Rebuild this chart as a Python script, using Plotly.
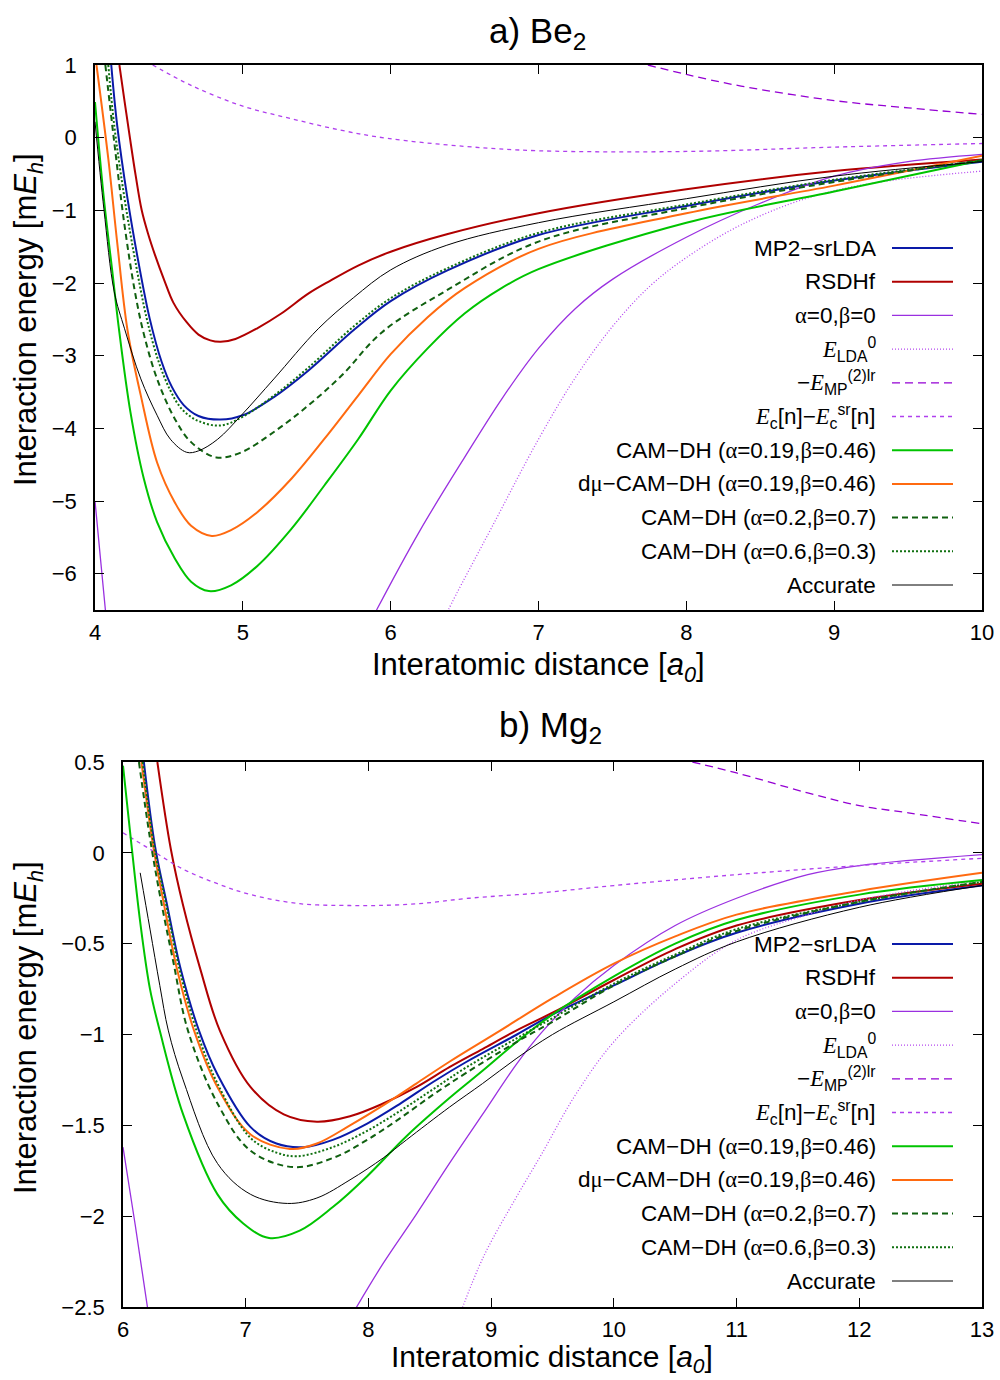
import plotly.graph_objects as go

# ---------------- data: a) Be2 ----------------
be_rsdhf_x = [4.165, 4.20, 4.236, 4.275, 4.316, 4.36, 4.405, 4.47, 4.53, 4.62, 4.70, 4.78, 4.85, 4.95, 5.10, 5.26, 5.44, 5.59, 5.78, 6.0, 6.38, 7.0, 8.0, 9.0, 10.0]
be_rsdhf_y = [1.0, 0.50, 0.0, -0.52, -1.0, -1.33, -1.61, -1.97, -2.27, -2.54, -2.71, -2.79, -2.81, -2.77, -2.62, -2.42, -2.15, -1.97, -1.76, -1.57, -1.33, -1.04, -0.71, -0.46, -0.30]

be_mp2_x = [4.11, 4.15, 4.22, 4.29, 4.37, 4.45, 4.52, 4.60, 4.70, 4.85, 5.0, 5.21, 5.44, 5.76, 6.0, 6.38, 7.0, 8.0, 9.0, 10.0]
be_mp2_y = [1.0, 0.17, -0.84, -1.67, -2.49, -3.08, -3.43, -3.68, -3.83, -3.88, -3.82, -3.57, -3.21, -2.63, -2.25, -1.83, -1.34, -0.94, -0.59, -0.33]

be_a0_x = [4.0, 4.035, 4.075, None, 5.88, 5.91, 6.2, 6.5, 6.75, 7.0, 7.25, 7.5, 8.0, 8.48, 9.0, 9.5, 10.0]
be_a0_y = [-5.0, -5.75, -6.6, None, -6.6, -6.48, -5.4, -4.4, -3.6, -2.9, -2.35, -1.95, -1.37, -0.92, -0.53, -0.33, -0.23]

be_lda_x = [6.37, 6.39, 6.7, 7.0, 7.25, 7.5, 7.75, 8.0, 8.37, 8.82, 9.28, 10.0]
be_lda_y = [-6.6, -6.5, -5.3, -4.15, -3.3, -2.6, -2.05, -1.65, -1.2, -0.83, -0.62, -0.46]

be_mplr_x = [7.74, 8.0, 8.37, 9.0, 9.5, 10.0]
be_mplr_y = [1.0, 0.87, 0.71, 0.51, 0.41, 0.32]

be_ecsr_x = [4.39, 4.65, 4.99, 5.33, 5.67, 5.98, 6.5, 7.0, 8.0, 9.0, 10.0]
be_ecsr_y = [1.0, 0.72, 0.44, 0.26, 0.10, -0.01, -0.12, -0.18, -0.19, -0.13, -0.08]

be_cam1946_x = [4.0, 4.06, 4.12, 4.16, 4.24, 4.33, 4.42, 4.54, 4.65, 4.77, 4.92, 5.10, 5.33, 5.55, 5.78, 6.0, 6.25, 6.5, 6.75, 7.0, 8.0, 9.0, 10.0]
be_cam1946_y = [0.49, -0.84, -1.89, -2.60, -3.78, -4.69, -5.29, -5.79, -6.11, -6.24, -6.16, -5.89, -5.38, -4.79, -4.15, -3.48, -2.90, -2.42, -2.07, -1.81, -1.17, -0.74, -0.31]

be_dmu_x = [4.01, 4.09, 4.15, 4.22, 4.31, 4.42, 4.54, 4.65, 4.79, 4.92, 5.10, 5.33, 5.55, 5.78, 6.0, 6.25, 6.5, 7.0, 8.0, 9.0, 10.0]
be_dmu_y = [1.0, -0.29, -1.44, -2.65, -3.55, -4.47, -5.02, -5.34, -5.48, -5.40, -5.15, -4.69, -4.15, -3.55, -2.98, -2.47, -2.07, -1.53, -1.04, -0.66, -0.25]

be_cam27_x = [4.07, 4.13, 4.20, 4.27, 4.33, 4.42, 4.54, 4.65, 4.82, 4.99, 5.21, 5.44, 5.67, 5.94, 6.38, 7.0, 8.0, 9.0, 10.0]
be_cam27_y = [1.0, -0.06, -1.21, -2.12, -2.70, -3.32, -3.87, -4.19, -4.40, -4.33, -4.05, -3.69, -3.27, -2.68, -2.10, -1.43, -0.97, -0.61, -0.31]

be_cam63_x = [4.09, 4.13, 4.20, 4.27, 4.35, 4.43, 4.51, 4.59, 4.70, 4.85, 5.0, 5.21, 5.44, 5.76, 6.0, 6.38, 7.0, 8.0, 9.0, 10.0]
be_cam63_y = [1.0, 0.17, -0.84, -1.67, -2.49, -3.08, -3.48, -3.74, -3.90, -3.96, -3.84, -3.55, -3.17, -2.58, -2.21, -1.80, -1.31, -0.92, -0.58, -0.32]

be_acc_x = [4.0, 4.06, 4.13, 4.20, 4.31, 4.42, 4.51, 4.62, 4.70, 4.83, 4.99, 5.21, 5.51, 5.75, 6.0, 6.38, 7.0, 8.0, 9.0, 10.0]
be_acc_y = [0.22, -0.98, -2.12, -2.63, -3.32, -3.82, -4.15, -4.33, -4.31, -4.15, -3.82, -3.32, -2.63, -2.20, -1.82, -1.48, -1.17, -0.84, -0.53, -0.33]

# ---------------- data: b) Mg2 ----------------
mg_rsdhf_x = [6.28, 6.39, 6.49, 6.63, 6.79, 7.04, 7.31, 7.58, 7.85, 8.12, 8.39, 8.66, 8.93, 9.2, 9.5, 10.0, 10.5, 11.0, 12.0, 13.0]
mg_rsdhf_y = [0.5, 0.02, -0.29, -0.64, -0.98, -1.29, -1.44, -1.48, -1.45, -1.38, -1.29, -1.18, -1.08, -0.98, -0.88, -0.70, -0.53, -0.40, -0.26, -0.17]

mg_mp2_x = [6.17, 6.26, 6.36, 6.47, 6.62, 6.77, 7.04, 7.25, 7.47, 7.71, 7.99, 8.26, 8.53, 8.80, 9.21, 9.5, 10.0, 10.5, 11.0, 12.0, 13.0]
mg_mp2_y = [0.5, 0.04, -0.29, -0.64, -0.98, -1.22, -1.51, -1.60, -1.62, -1.58, -1.49, -1.38, -1.26, -1.15, -1.00, -0.89, -0.73, -0.57, -0.44, -0.28, -0.18]

mg_a0_x = [6.0, 6.1, 6.21, None, 7.86, 8.12, 8.39, 8.66, 8.93, 9.21, 9.41, 9.68, 10.0, 10.5, 11.0, 11.58, 12.0, 13.0]
mg_a0_y = [-1.62, -2.05, -2.55, None, -2.55, -2.26, -1.99, -1.71, -1.44, -1.16, -0.99, -0.80, -0.62, -0.40, -0.25, -0.12, -0.07, -0.01]

mg_lda_x = [8.74, 8.94, 9.21, 9.41, 9.68, 10.0, 10.5, 11.0, 11.58, 12.0, 13.0]
mg_lda_y = [-2.55, -2.22, -1.89, -1.66, -1.34, -1.04, -0.72, -0.48, -0.34, -0.26, -0.15]

mg_mplr_x = [10.64, 11.0, 11.58, 12.0, 12.4, 13.0]
mg_mplr_y = [0.5, 0.44, 0.33, 0.26, 0.22, 0.16]

mg_ecsr_x = [6.0, 6.22, 6.49, 6.77, 7.04, 7.44, 7.85, 8.07, 8.41, 8.82, 9.41, 10.0, 11.0, 12.0, 13.0]
mg_ecsr_y = [0.11, 0.02, -0.09, -0.17, -0.23, -0.28, -0.29, -0.29, -0.28, -0.25, -0.22, -0.18, -0.12, -0.07, -0.03]

mg_cam1946_x = [6.0, 6.06, 6.14, 6.22, 6.30, 6.49, 6.77, 6.98, 7.19, 7.44, 7.71, 7.99, 8.31, 8.66, 8.93, 9.21, 9.5, 10.0, 10.5, 11.0, 12.0, 13.0]
mg_cam1946_y = [0.48, 0.10, -0.38, -0.75, -0.98, -1.44, -1.88, -2.04, -2.12, -2.08, -1.95, -1.78, -1.56, -1.35, -1.20, -1.04, -0.89, -0.68, -0.50, -0.37, -0.23, -0.15]

mg_dmu_x = [6.15, 6.25, 6.33, 6.44, 6.58, 6.77, 7.04, 7.36, 7.58, 7.85, 8.12, 8.39, 8.66, 9.07, 9.5, 10.0, 10.5, 11.0, 12.0, 13.0]
mg_dmu_y = [0.5, 0.02, -0.27, -0.64, -0.98, -1.29, -1.55, -1.63, -1.60, -1.50, -1.39, -1.27, -1.15, -0.98, -0.80, -0.61, -0.46, -0.34, -0.21, -0.11]

mg_cam27_x = [6.13, 6.22, 6.30, 6.41, 6.53, 6.77, 7.04, 7.39, 7.71, 7.99, 8.26, 8.53, 8.80, 9.21, 9.5, 10.0, 10.5, 11.0, 12.0, 13.0]
mg_cam27_y = [0.5, 0.08, -0.23, -0.60, -0.98, -1.38, -1.64, -1.73, -1.68, -1.58, -1.46, -1.33, -1.21, -1.04, -0.93, -0.73, -0.57, -0.43, -0.27, -0.16]

mg_cam63_x = [6.16, 6.25, 6.35, 6.46, 6.60, 6.77, 7.04, 7.25, 7.42, 7.71, 7.99, 8.26, 8.53, 8.80, 9.21, 9.5, 10.0, 10.5, 11.0, 12.0, 13.0]
mg_cam63_y = [0.5, 0.05, -0.28, -0.64, -0.98, -1.27, -1.57, -1.65, -1.67, -1.62, -1.53, -1.42, -1.30, -1.18, -1.02, -0.91, -0.72, -0.56, -0.42, -0.27, -0.16]

mg_acc_x = [6.14, 6.22, 6.30, 6.37, 6.49, 6.77, 7.04, 7.34, 7.58, 7.85, 8.12, 8.31, 8.66, 8.93, 9.21, 9.5, 10.0, 10.5, 11.0, 12.0, 13.0]
mg_acc_y = [-0.11, -0.42, -0.73, -0.98, -1.25, -1.71, -1.88, -1.93, -1.90, -1.80, -1.68, -1.58, -1.40, -1.27, -1.13, -1.00, -0.82, -0.64, -0.49, -0.30, -0.18]

# ---------------- labels / ticks ----------------
SER = "font-family:Liberation Serif"
series_labels = [
    "MP2−srLDA",
    "RSDHf",
    f"<span style='{SER}'>α</span>=0,<span style='{SER}'>β</span>=0",
    f"<span style='{SER}'><i>E</i></span><sub>LDA</sub><sup>0</sup>",
    f"−<span style='{SER}'><i>E</i></span><sub>MP</sub><sup>(2)lr</sup>",
    f"<span style='{SER}'><i>E</i></span><sub>c</sub>[n]−<span style='{SER}'><i>E</i></span><sub>c</sub><sup>sr</sup>[n]",
    f"CAM−DH (<span style='{SER}'>α</span>=0.19,<span style='{SER}'>β</span>=0.46)",
    f"d<span style='{SER}'>μ</span>−CAM−DH (<span style='{SER}'>α</span>=0.19,<span style='{SER}'>β</span>=0.46)",
    f"CAM−DH (<span style='{SER}'>α</span>=0.2,<span style='{SER}'>β</span>=0.7)",
    f"CAM−DH (<span style='{SER}'>α</span>=0.6,<span style='{SER}'>β</span>=0.3)",
    "Accurate",
]
series_styles = [
    dict(color="#0a1aa8", width=2.0, dash="solid"),
    dict(color="#b00000", width=2.0, dash="solid"),
    dict(color="#9a30e0", width=1.3, dash="solid"),
    dict(color="#b548f0", width=1.3, dash="1px,2px"),
    dict(color="#9400d3", width=1.3, dash="8px,5px"),
    dict(color="#b040ee", width=1.3, dash="4px,4px"),
    dict(color="#00c400", width=2.0, dash="solid"),
    dict(color="#ff6a10", width=2.0, dash="solid"),
    dict(color="#106010", width=2.0, dash="6px,4px"),
    dict(color="#107010", width=2.0, dash="2px,2px"),
    dict(color="#000000", width=1.0, dash="solid"),
]

be_series = [(be_mp2_x, be_mp2_y), (be_rsdhf_x, be_rsdhf_y), (be_a0_x, be_a0_y), (be_lda_x, be_lda_y),
             (be_mplr_x, be_mplr_y), (be_ecsr_x, be_ecsr_y), (be_cam1946_x, be_cam1946_y),
             (be_dmu_x, be_dmu_y), (be_cam27_x, be_cam27_y), (be_cam63_x, be_cam63_y), (be_acc_x, be_acc_y)]
mg_series = [(mg_mp2_x, mg_mp2_y), (mg_rsdhf_x, mg_rsdhf_y), (mg_a0_x, mg_a0_y), (mg_lda_x, mg_lda_y),
             (mg_mplr_x, mg_mplr_y), (mg_ecsr_x, mg_ecsr_y), (mg_cam1946_x, mg_cam1946_y),
             (mg_dmu_x, mg_dmu_y), (mg_cam27_x, mg_cam27_y), (mg_cam63_x, mg_cam63_y), (mg_acc_x, mg_acc_y)]

be_xticks = [4, 5, 6, 7, 8, 9, 10]
be_yticks = [1, 0, -1, -2, -3, -4, -5, -6]
mg_xticks = [6, 7, 8, 9, 10, 11, 12, 13]
mg_yticks = [0.5, 0, -0.5, -1, -1.5, -2, -2.5]

FONT = "Liberation Sans"
W, H = 1000, 1380


def sx(px):                   # page pixel -> paper x
    return px / W


def sy(py):                   # page pixel -> paper y
    return 1 - py / H


fig = go.Figure()
for i, (xs, ys) in enumerate(be_series):
    fig.add_trace(go.Scatter(x=xs, y=ys, mode="lines", line=dict(shape="spline", smoothing=1.0, **series_styles[i]),
                             xaxis="x", yaxis="y", showlegend=False, connectgaps=False, hoverinfo="skip"))
for i, (xs, ys) in enumerate(mg_series):
    fig.add_trace(go.Scatter(x=xs, y=ys, mode="lines", line=dict(shape="spline", smoothing=1.0, **series_styles[i]),
                             xaxis="x2", yaxis="y2", showlegend=False, connectgaps=False, hoverinfo="skip"))

axis_common = dict(showgrid=False, zeroline=False, showline=True, linecolor="black", linewidth=1.6,
                   mirror="allticks", ticks="inside", ticklen=9, tickwidth=1.2, tickcolor="black",
                   tickfont=dict(family=FONT, size=22, color="black"), automargin=False)
xax = dict(ticklabelstandoff=2, **axis_common)
yax = dict(ticklabelstandoff=12, **axis_common)

fig.update_layout(
    width=W, height=H, margin=dict(l=0, r=0, t=0, b=0),
    paper_bgcolor="white", plot_bgcolor="white", showlegend=False,
    font=dict(family=FONT, color="black"),
    xaxis=dict(domain=[sx(95), sx(982)], range=[4, 10], tickvals=be_xticks, anchor="y", **xax),
    yaxis=dict(domain=[sy(610), sy(65)], range=[-6.5, 1], tickvals=be_yticks, anchor="x", **yax),
    xaxis2=dict(domain=[sx(123), sx(982)], range=[6, 13], tickvals=mg_xticks, anchor="y2", **xax),
    yaxis2=dict(domain=[sy(1307), sy(762)], range=[-2.5, 0.5], tickvals=mg_yticks, anchor="x2", **yax),
)

XT = "Interatomic distance [<i>a</i><sub><i>0</i></sub>]"
YT = "Interaction energy [m<i>E</i><sub><i>h</i></sub>]"
annotations = [
    dict(text="a) Be<sub>2</sub>", x=sx(537), y=sy(33), font=dict(family=FONT, size=35)),
    dict(text="b) Mg<sub>2</sub>", x=sx(550), y=sy(727), font=dict(family=FONT, size=35)),
    dict(text=XT, x=sx(538), y=sy(667), font=dict(family=FONT, size=31)),
    dict(text=XT, x=sx(552), y=sy(1379), font=dict(family=FONT, size=30), yanchor="bottom"),
    dict(text=YT, x=sx(28), y=sy(320), textangle=-90, font=dict(family=FONT, size=31)),
    dict(text=YT, x=sx(28), y=sy(1028), textangle=-90, font=dict(family=FONT, size=31)),
]
for a in annotations:
    a.setdefault("yanchor", "middle")
    a.update(xref="paper", yref="paper", showarrow=False, xanchor="center")

shapes = []
for top in (248, 944):
    for i, lab in enumerate(series_labels):
        py = top + i * 33.7
        annotations.append(dict(text=lab, x=sx(878), y=sy(py), xref="paper", yref="paper", showarrow=False,
                                xanchor="right", yanchor="middle", font=dict(family=FONT, size=22.5, color="black")))
        st = series_styles[i]
        shapes.append(dict(type="line", xref="paper", yref="paper", x0=sx(892), x1=sx(953), y0=sy(py), y1=sy(py),
                           line=dict(color=st["color"], width=st["width"], dash=st["dash"])))
fig.update_layout(annotations=annotations, shapes=shapes)

# remove the browser's default page margin so the figure fills the window exactly
fig.write_html("out.html", config={"displayModeBar": False},
               post_script="document.body.style.margin='0';document.body.style.overflow='hidden';")
